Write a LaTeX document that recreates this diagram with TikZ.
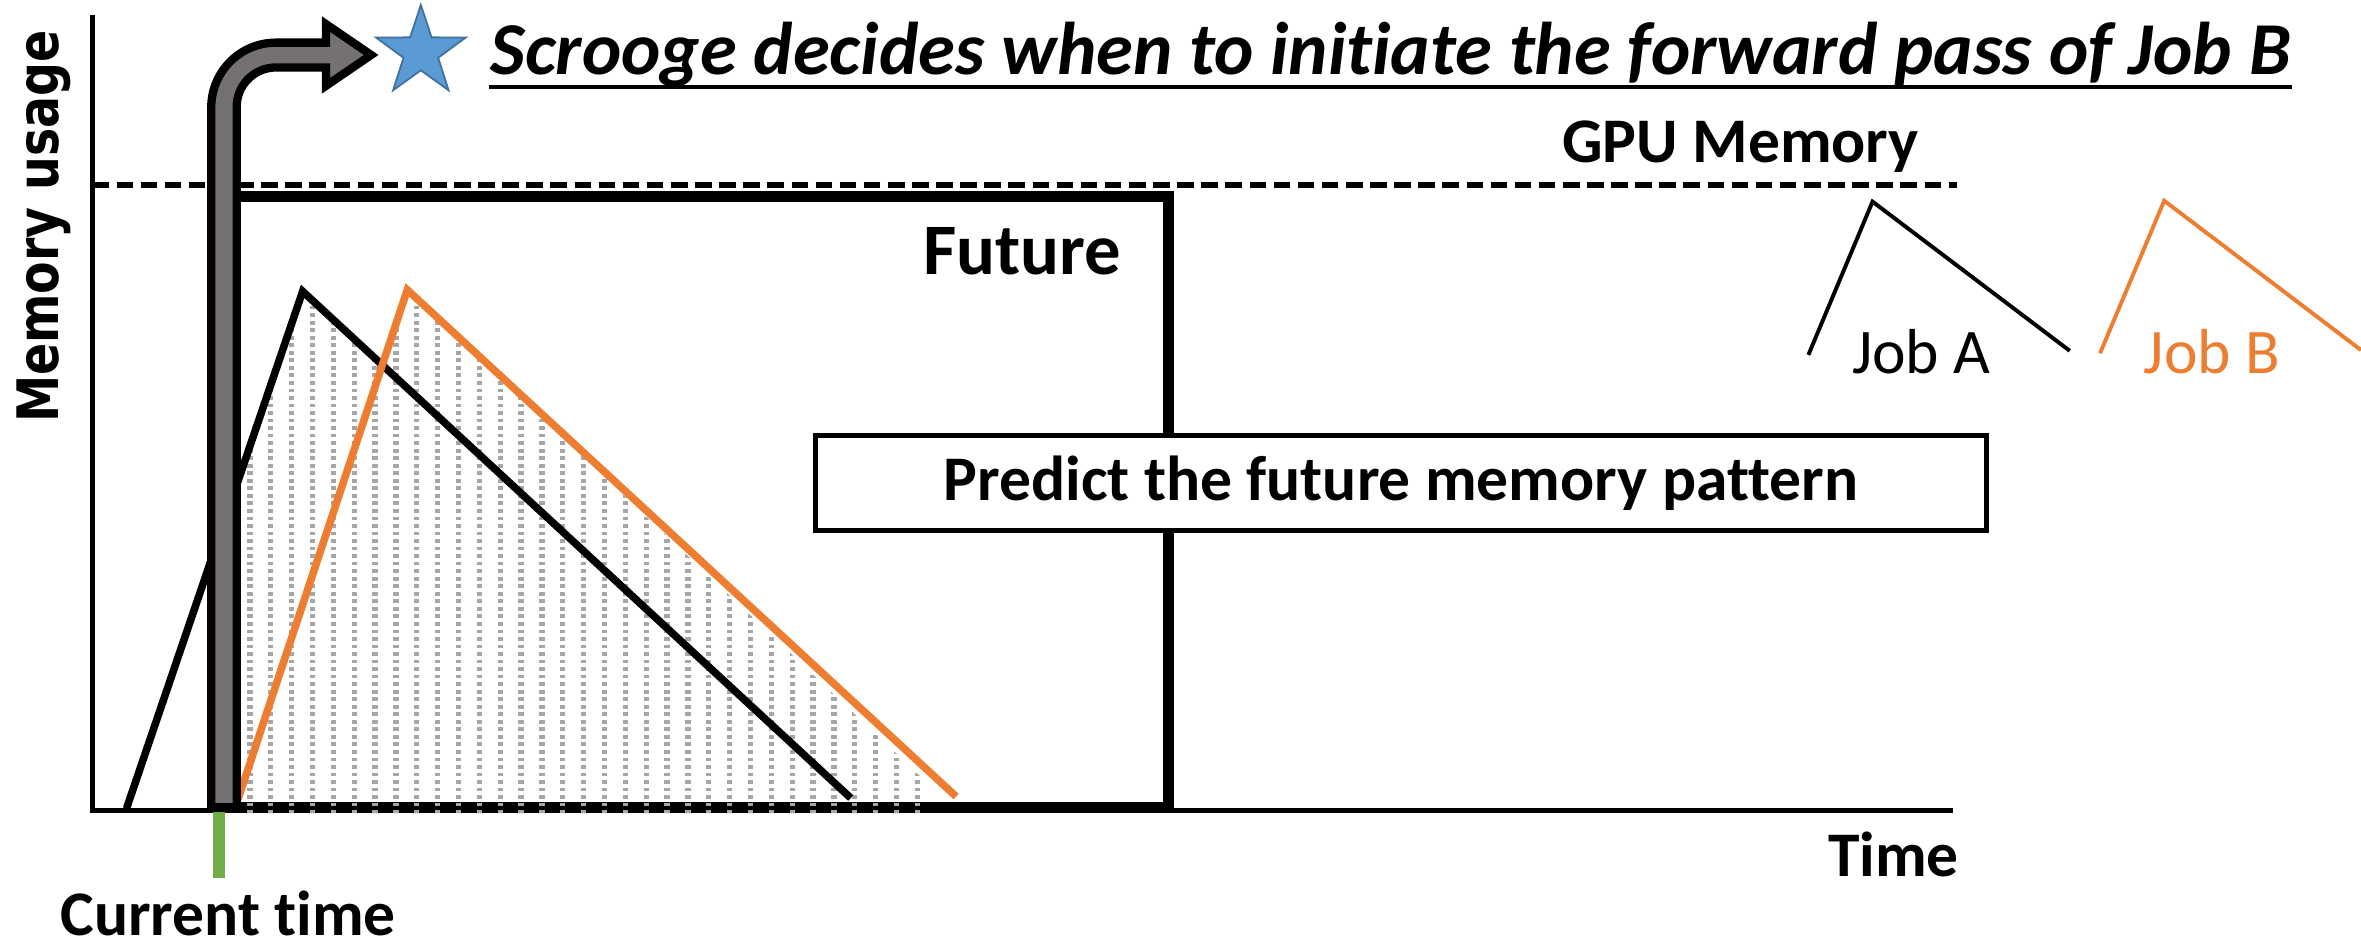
\documentclass[tikz,border=0pt]{standalone}
\usepackage{fontspec}
\usepackage{graphicx}
\setmainfont{Carlito}[Ligatures={NoCommon}]
\newfontfamily\axisfont{DejaVu Sans}

\definecolor{joborange}{HTML}{ED7D31}
\definecolor{nowgreen}{HTML}{70AD47}
\definecolor{starblue}{HTML}{5B9BD5}
\definecolor{starline}{HTML}{41719C}
\definecolor{arrowgray}{HTML}{767171}
\definecolor{hatchgray}{HTML}{A6A6A6}

\tikzset{
  boldlabel/.style={inner sep=0, font=\fontsize{12}{14}\selectfont\bfseries},
  joblabel/.style={inner sep=0, font=\fontsize{12}{14}\selectfont},
  axisline/.style={line width=0.035cm},
  jobline/.style={line width=0.05cm},
  legendline/.style={line width=0.026cm},
  hatch/.style={hatchgray, line width=0.035cm, dash pattern=on 0.025cm off 0.025cm},
}

\begin{document}
\begin{tikzpicture}[x=0.01cm, y=-0.01cm]
\useasboundingbox (0,0) rectangle (1568,627);

% future window
\draw[line width=0.075cm] (148.7,536.2) rectangle (776.2,130.5);

% GPU memory limit
\draw[line width=0.04cm, dash pattern=on 0.11cm off 0.05cm] (61.4,123) -- (1300,123);

% axes
\draw[axisline] (61.4,10) -- (61.4,538.2) -- (1297,538.2);

% predicted usage (hatched area under both jobs)
\begin{scope}
  \clip (85,540) -- (201,193) -- (567,540) -- cycle
        (156,540) -- (270,192) -- (637,540) -- cycle;
  \foreach \k in {0,...,32}
    \draw[hatch] ({166+13.85*\k},188) -- ({166+13.85*\k},541);
\end{scope}

% memory curves of the two jobs
\draw[jobline] (84,537) -- (201,193.5) -- (565,530);
\draw[jobline, joborange] (158,531) -- (270.5,192.5) -- (635,529);

% bent arrow from the current time to the decision
\draw[line width=0.055cm, fill=arrowgray]
  (140.3,536.2) -- (140.3,71.3)
  .. controls (140.3,47.55) and (159.55,28.3) .. (183.3,28.3)
  -- (216.5,28.3) -- (216.5,16) -- (246.5,36.5) -- (216.5,57) -- (216.5,44.8)
  -- (183.3,44.8)
  .. controls (168.88,44.8) and (157.2,56.48) .. (157.2,70.9)
  -- (157.2,536.2) -- cycle;

% star
\draw[starline, fill=starblue, line width=0.012cm]
  (279.5,3.3) -- (286.61,24.81) -- (309.27,24.93) -- (291.01,38.34)
  -- (297.9,59.92) -- (279.5,46.7) -- (261.1,59.92) -- (267.99,38.34)
  -- (249.73,24.93) -- (272.39,24.81) -- cycle;

% prediction box
\node[draw, fill=white, line width=0.033cm, minimum width=7.77cm,
      minimum height=0.631cm, inner sep=0,
      font=\fontsize{12}{14}\selectfont\bfseries] (predict) at (930.5,321)
  {Predict the future memory pattern};

% current time marker
\draw[nowgreen, line width=0.075cm] (145.5,539.5) -- (145.5,583);

% labels
\node[anchor=base west, inner sep=0,
      font=\fontsize{14.1}{16}\selectfont\bfseries\itshape] (title) at (325,49.5)
  {Scrooge decides when to initiate the forward pass of Job B};
\draw[line width=0.025cm] ([yshift=-0.083cm]title.base west) -- ([yshift=-0.083cm]title.base east);

\node[boldlabel, anchor=base] (gpu) at (1156,108) {GPU Memory};
\node[inner sep=0, anchor=base, font=\fontsize{13.7}{16}\selectfont\bfseries] (future) at (679,182.5) {Future};
\node[boldlabel, anchor=base] (now) at (151.5,621) {Current time};
\node[boldlabel, anchor=base] (time) at (1257.5,582) {Time};
\node[rotate=90, anchor=base, inner sep=0,
      font=\axisfont\bfseries\fontsize{10.8}{13}\selectfont] (ylabel) at (38.7,150.5)
  {\scalebox{0.83}[1]{Memory usage}};

% legend
\draw[legendline] (1201,235.7) -- (1243.6,133.9) -- (1374.6,233);
\node[joblabel, anchor=base] (joba) at (1276,247.8) {Job A};
\draw[legendline, joborange] (1394.7,234.6) -- (1437.3,133.3) -- (1568,232.5);
\node[joblabel, anchor=base, text=joborange] (jobb) at (1469,247.8) {Job B};
\end{tikzpicture}
\end{document}
